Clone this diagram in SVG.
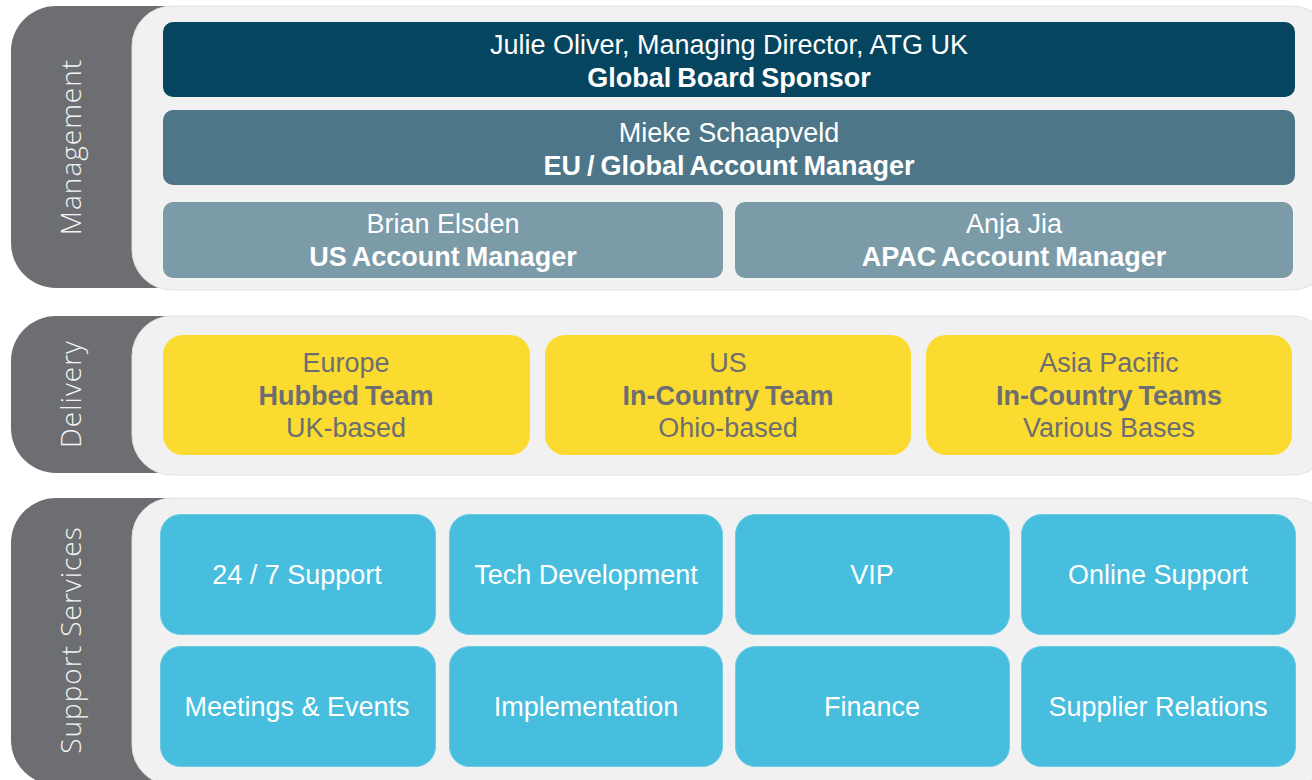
<svg xmlns="http://www.w3.org/2000/svg" width="1312" height="780" viewBox="0 0 1312 780">
  <style>
    .tab { fill: #6d6e71; }
    .panel { fill: #f1f1f1; stroke: #e2e2e2; stroke-width: 1; }
    .side { font-family: "Open Sans", "DejaVu Sans", sans-serif; font-weight: 300; font-size: 28px; fill: #f4f4f4; text-anchor: middle; letter-spacing: 1px; }
    .t { font-family: "Liberation Sans", Arial, sans-serif; font-size: 27px; text-anchor: middle; }
    .b { font-weight: bold; word-spacing: -1.5px; }
    .w { fill: #ffffff; }
    .g { fill: #6d6e71; }
    .navy { fill: #06455f; }
    .steel { fill: #4d7789; }
    .slate { fill: #7b9ba8; }
    .yellow { fill: #fbdb30; }
    .cyan { fill: #47bedd; stroke: #6ccbe3; stroke-width: 1; }
  </style>

  <!-- Management band -->
  <g id="management">
    <rect class="tab" x="11" y="6" width="200" height="282" rx="45"/>
    <rect class="panel" x="132" y="6" width="1200" height="284" rx="40"/>
    <text class="side" transform="translate(81,147) rotate(-90)">Management</text>
  </g>
  <g id="sponsor">
    <rect class="navy" x="163" y="22" width="1132" height="75" rx="10"/>
    <text class="t w" x="729" y="54">Julie Oliver, Managing Director, ATG UK</text>
    <text class="t w b" x="729" y="87">Global Board Sponsor</text>
  </g>
  <g id="eu-manager">
    <rect class="steel" x="163" y="110" width="1132" height="75" rx="10"/>
    <text class="t w" x="729" y="142">Mieke Schaapveld</text>
    <text class="t w b" x="729" y="175">EU / Global Account Manager</text>
  </g>
  <g id="us-manager">
    <rect class="slate" x="163" y="202" width="560" height="76" rx="10"/>
    <text class="t w" x="443" y="233">Brian Elsden</text>
    <text class="t w b" x="443" y="266">US Account Manager</text>
  </g>
  <g id="apac-manager">
    <rect class="slate" x="735" y="202" width="558" height="76" rx="10"/>
    <text class="t w" x="1014" y="233">Anja Jia</text>
    <text class="t w b" x="1014" y="266">APAC Account Manager</text>
  </g>

  <!-- Delivery band -->
  <g id="delivery">
    <rect class="tab" x="11" y="316" width="200" height="157" rx="45"/>
    <rect class="panel" x="132" y="316" width="1200" height="159" rx="40"/>
    <text class="side" transform="translate(81,394) rotate(-90)">Delivery</text>
  </g>
  <g id="europe">
    <rect class="yellow" x="163" y="335" width="367" height="120" rx="20"/>
    <text class="t g" x="346" y="372">Europe</text>
    <text class="t g b" x="346" y="405">Hubbed Team</text>
    <text class="t g" x="346" y="437">UK-based</text>
  </g>
  <g id="us">
    <rect class="yellow" x="545" y="335" width="366" height="120" rx="20"/>
    <text class="t g" x="728" y="372">US</text>
    <text class="t g b" x="728" y="405">In-Country Team</text>
    <text class="t g" x="728" y="437">Ohio-based</text>
  </g>
  <g id="asia-pacific">
    <rect class="yellow" x="926" y="335" width="366" height="120" rx="20"/>
    <text class="t g" x="1109" y="372">Asia Pacific</text>
    <text class="t g b" x="1109" y="405">In-Country Teams</text>
    <text class="t g" x="1109" y="437">Various Bases</text>
  </g>

  <!-- Support Services band -->
  <g id="support-services">
    <rect class="tab" x="11" y="498" width="200" height="287" rx="45"/>
    <rect class="panel" x="132" y="498" width="1200" height="287" rx="40"/>
    <text class="side" transform="translate(81,640) rotate(-90)">Support Services</text>
  </g>
  <g id="support-24-7">
    <rect class="cyan" x="160.5" y="514.5" width="275" height="120" rx="20"/>
    <text class="t w" x="297" y="584">24 / 7 Support</text>
  </g>
  <g id="tech-development">
    <rect class="cyan" x="449.5" y="514.5" width="273" height="120" rx="20"/>
    <text class="t w" x="586" y="584">Tech Development</text>
  </g>
  <g id="vip">
    <rect class="cyan" x="735.5" y="514.5" width="274" height="120" rx="20"/>
    <text class="t w" x="872" y="584">VIP</text>
  </g>
  <g id="online-support">
    <rect class="cyan" x="1021.5" y="514.5" width="274" height="120" rx="20"/>
    <text class="t w" x="1158" y="584">Online Support</text>
  </g>
  <g id="meetings-events">
    <rect class="cyan" x="160.5" y="646.5" width="275" height="120" rx="20"/>
    <text class="t w" x="297" y="716">Meetings &amp; Events</text>
  </g>
  <g id="implementation">
    <rect class="cyan" x="449.5" y="646.5" width="273" height="120" rx="20"/>
    <text class="t w" x="586" y="716">Implementation</text>
  </g>
  <g id="finance">
    <rect class="cyan" x="735.5" y="646.5" width="274" height="120" rx="20"/>
    <text class="t w" x="872" y="716">Finance</text>
  </g>
  <g id="supplier-relations">
    <rect class="cyan" x="1021.5" y="646.5" width="274" height="120" rx="20"/>
    <text class="t w" x="1158" y="716">Supplier Relations</text>
  </g>

  <!-- no connectors in this chart -->
  <g id="connectors"/>
</svg>
